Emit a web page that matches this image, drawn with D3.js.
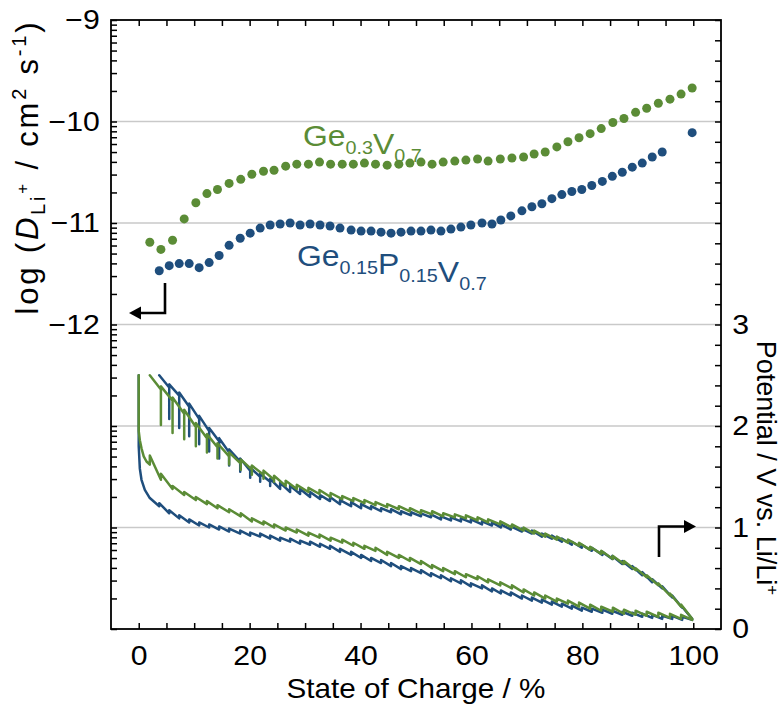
<!DOCTYPE html>
<html>
<head>
<meta charset="utf-8">
<script src="https://cdn.jsdelivr.net/npm/d3@7"></script>
<style>
  body { margin: 0; background: #fff; }
  svg text { font-family: "Liberation Sans", Arial, Helvetica, sans-serif; }
</style>
</head>
<body>
<svg id="chart" width="783" height="707"></svg>
<script>
// ---- axis tick labels ----
const socTicks = [0, 20, 40, 60, 80, 100];
const logDTicks = [-9, -10, -11, -12];
const potentialTicks = [0, 1, 2, 3];

// ---- diffusion coefficients, log(D / cm2 s-1) vs. state of charge ----
const socGeV = [2.0, 4.0, 6.1, 8.2, 10.3, 12.3, 14.2, 16.3, 18.4, 20.4, 22.5, 24.4, 26.5, 28.5, 30.6, 32.6, 34.6, 36.7, 38.7, 40.7,
  42.7, 44.8, 46.9, 48.9, 50.9, 52.9, 54.9, 57.0, 59.0, 61.1, 63.0, 65.2, 67.3, 69.4, 71.3, 73.3, 75.4, 77.4, 79.4, 81.4,
  83.4, 85.5, 87.5, 89.6, 91.6, 93.7, 95.8, 97.8, 99.8];
const logDGeV = [-11.19, -11.26, -11.17, -10.96, -10.80, -10.71, -10.67, -10.61, -10.57, -10.52, -10.49, -10.48, -10.44, -10.42,
  -10.42, -10.40, -10.42, -10.42, -10.42, -10.41, -10.42, -10.43, -10.42, -10.41, -10.40, -10.42, -10.40, -10.39, -10.38,
  -10.37, -10.39, -10.37, -10.36, -10.35, -10.32, -10.30, -10.25, -10.20, -10.16, -10.12, -10.07, -10.01, -9.97, -9.91,
  -9.87, -9.82, -9.78, -9.73, -9.67];

const socGePV = [3.7, 5.5, 7.3, 9.1, 10.9, 12.7, 14.5, 16.3, 18.3, 20.1, 21.9, 23.7, 25.5, 27.3, 29.1, 30.9, 32.7, 34.5, 36.3,
  38.3, 40.1, 41.9, 43.7, 45.5, 47.3, 49.1, 50.9, 52.7, 54.5, 56.3, 58.1, 59.9, 61.9, 63.7, 65.3, 67.1, 69.1, 70.9, 72.7,
  74.5, 76.3, 78.1, 79.9, 81.7, 83.6, 85.4, 87.2, 89.0, 90.8, 92.6, 94.4, 99.8];
const logDGePV = [-11.47, -11.42, -11.40, -11.40, -11.44, -11.39, -11.32, -11.22, -11.15, -11.10, -11.05, -11.02, -11.01,
  -11.00, -11.02, -11.01, -11.02, -11.03, -11.05, -11.07, -11.08, -11.08, -11.09, -11.10, -11.09, -11.08, -11.08, -11.07,
  -11.08, -11.06, -11.04, -11.02, -11.00, -11.01, -10.97, -10.93, -10.88, -10.84, -10.81, -10.76, -10.72, -10.69, -10.67,
  -10.63, -10.59, -10.54, -10.50, -10.45, -10.41, -10.35, -10.30, -10.11];

// ---- GITT potential profiles (V vs. Li/Li+) ----
// pulse = potential at the end of a current pulse, rest = relaxed potential after the pause,
// onset = potential right after the current is switched on again (defaults to rest).
// Ge0.3V0.7, lithiation (SOC increasing)
const geVLithSOC = [0, 0, 0.2, 0.5, 0.9, 1.4, 2.0, 4.0, 6.1, 8.2, 10.3, 12.3, 14.2, 16.3, 18.4, 20.4, 22.5, 24.4, 26.5, 28.5,
  30.6, 32.6, 34.6, 36.7, 38.7, 40.7, 42.7, 44.8, 46.9, 48.9, 50.9, 52.9, 54.9, 57.0, 59.0, 61.1, 63.0, 65.2, 67.3, 69.4,
  71.3, 73.3, 75.4, 77.4, 79.4, 81.4, 83.4, 85.5, 87.5, 89.6, 91.6, 93.7, 95.8, 97.8, 99.8];
const geVLithPulse = [2.50, 1.95, 1.86, 1.78, 1.70, 1.65, 1.62, 1.47, 1.38, 1.32, 1.27, 1.23, 1.19, 1.15, 1.11, 1.06, 1.03,
  1.00, 0.97, 0.95, 0.92, 0.90, 0.87, 0.85, 0.82, 0.79, 0.77, 0.73, 0.70, 0.67, 0.64, 0.60, 0.57, 0.54, 0.51, 0.49, 0.46,
  0.43, 0.40, 0.36, 0.33, 0.30, 0.27, 0.25, 0.22, 0.20, 0.18, 0.17, 0.15, 0.14, 0.13, 0.12, 0.11, 0.10, 0.09];
const geVLithRest = [2.50, 1.95, 1.86, 1.78, 1.70, 1.65, 1.71, 1.53, 1.41, 1.35, 1.30, 1.26, 1.22, 1.18, 1.14, 1.09, 1.06,
  1.03, 1.00, 0.98, 0.95, 0.93, 0.90, 0.88, 0.85, 0.82, 0.80, 0.76, 0.73, 0.70, 0.67, 0.63, 0.60, 0.57, 0.54, 0.52, 0.49,
  0.46, 0.43, 0.39, 0.36, 0.33, 0.30, 0.28, 0.26, 0.24, 0.22, 0.21, 0.19, 0.18, 0.17, 0.16, 0.15, 0.14, 0.09];
// Ge0.3V0.7, delithiation (run from SOC 100 back to 2)
const geVDelithSOC = socGeV;
const geVDelithPulse = [2.50, 2.39, 2.28, 2.16, 2.03, 1.92, 1.83, 1.74, 1.67, 1.61, 1.56, 1.51, 1.46, 1.42, 1.39, 1.37, 1.34,
  1.31, 1.29, 1.27, 1.25, 1.23, 1.21, 1.19, 1.17, 1.16, 1.14, 1.13, 1.12, 1.10, 1.08, 1.06, 1.03, 1.00, 0.97, 0.94, 0.91,
  0.88, 0.85, 0.81, 0.77, 0.72, 0.67, 0.60, 0.53, 0.45, 0.35, 0.24, 0.10];
const geVDelithRest = [2.50, 2.01, 1.93, 1.87, 1.80, 1.74, 1.68, 1.62, 1.57, 1.52, 1.48, 1.45, 1.41, 1.38, 1.35, 1.33, 1.30,
  1.28, 1.26, 1.24, 1.22, 1.20, 1.18, 1.16, 1.14, 1.13, 1.11, 1.10, 1.09, 1.07, 1.05, 1.03, 1.00, 0.97, 0.94, 0.91, 0.88,
  0.85, 0.82, 0.78, 0.74, 0.69, 0.64, 0.58, 0.51, 0.43, 0.33, 0.22, 0.10];
const geVDelithOnset = [2.50, 2.36, 2.25, 2.12, 1.99, 1.88, 1.79, 1.70, 1.63, 1.57, 1.52, 1.47, 1.41, 1.38, 1.35, 1.33, 1.30,
  1.28, 1.26, 1.24, 1.22, 1.20, 1.18, 1.16, 1.14, 1.13, 1.11, 1.10, 1.09, 1.07, 1.05, 1.03, 1.00, 0.97, 0.94, 0.91, 0.88,
  0.85, 0.82, 0.78, 0.74, 0.69, 0.64, 0.58, 0.51, 0.43, 0.33, 0.22, 0.10];

// Ge0.15P0.15V0.7, lithiation (SOC increasing)
const gePVLithSOC = [0, 0, 0.2, 0.5, 1.1, 2.0, 3.7, 5.5, 7.3, 9.1, 10.9, 12.7, 14.5, 16.3, 18.3, 20.1, 21.9, 23.7, 25.5, 27.3,
  29.1, 30.9, 32.7, 34.5, 36.3, 38.3, 40.1, 41.9, 43.7, 45.5, 47.3, 49.1, 50.9, 52.7, 54.5, 56.3, 58.1, 59.9, 61.9, 63.7,
  65.3, 67.1, 69.1, 70.9, 72.7, 74.5, 76.3, 78.1, 79.9, 81.7, 83.6, 85.4, 87.2, 89.0, 90.8, 92.6, 94.4, 96.2, 98.0, 99.8];
const gePVLithPulse = [2.50, 1.80, 1.58, 1.47, 1.37, 1.29, 1.21, 1.14, 1.09, 1.05, 1.02, 1.00, 0.98, 0.96, 0.94, 0.92, 0.91,
  0.89, 0.87, 0.86, 0.84, 0.83, 0.81, 0.79, 0.76, 0.73, 0.70, 0.67, 0.65, 0.62, 0.59, 0.57, 0.55, 0.52, 0.50, 0.47, 0.45,
  0.42, 0.40, 0.37, 0.35, 0.33, 0.30, 0.28, 0.26, 0.24, 0.22, 0.20, 0.18, 0.17, 0.16, 0.15, 0.14, 0.13, 0.12, 0.11, 0.10,
  0.10, 0.09, 0.09];
const gePVLithRest = [2.50, 1.80, 1.58, 1.47, 1.37, 1.29, 1.24, 1.17, 1.12, 1.08, 1.05, 1.03, 1.01, 0.99, 0.97, 0.95, 0.94,
  0.92, 0.90, 0.89, 0.87, 0.86, 0.84, 0.82, 0.79, 0.76, 0.73, 0.70, 0.68, 0.65, 0.62, 0.60, 0.58, 0.55, 0.53, 0.50, 0.48,
  0.45, 0.43, 0.40, 0.38, 0.36, 0.33, 0.31, 0.29, 0.27, 0.25, 0.23, 0.21, 0.20, 0.19, 0.18, 0.17, 0.16, 0.15, 0.14, 0.13,
  0.13, 0.12, 0.09];
// Ge0.15P0.15V0.7, delithiation (run from SOC 100 back to 3.7)
const gePVDelithSOC = [3.7, 5.5, 7.3, 9.1, 10.9, 12.7, 14.5, 16.3, 18.3, 20.1, 21.9, 23.7, 25.5, 27.3, 29.1, 30.9, 32.7, 34.5,
  36.3, 38.3, 40.1, 41.9, 43.7, 45.5, 47.3, 49.1, 50.9, 52.7, 54.5, 56.3, 58.1, 59.9, 61.9, 63.7, 65.3, 67.1, 69.1, 70.9,
  72.7, 74.5, 76.3, 78.1, 79.9, 81.7, 83.6, 85.4, 87.2, 89.0, 90.8, 92.6, 94.4, 96.2, 98.0, 99.8];
const gePVDelithPulse = [2.50, 2.41, 2.33, 2.22, 2.10, 1.98, 1.88, 1.77, 1.68, 1.59, 1.53, 1.48, 1.44, 1.41, 1.38, 1.35, 1.32,
  1.30, 1.27, 1.25, 1.23, 1.21, 1.19, 1.18, 1.16, 1.15, 1.14, 1.13, 1.11, 1.10, 1.09, 1.08, 1.06, 1.05, 1.03, 1.01, 0.99,
  0.97, 0.94, 0.92, 0.89, 0.86, 0.83, 0.80, 0.76, 0.72, 0.67, 0.62, 0.56, 0.49, 0.42, 0.33, 0.22, 0.10];
const gePVDelithRest = [2.50, 2.07, 1.98, 1.90, 1.82, 1.75, 1.68, 1.61, 1.55, 1.49, 1.45, 1.41, 1.38, 1.35, 1.33, 1.30, 1.28,
  1.26, 1.23, 1.21, 1.19, 1.18, 1.16, 1.15, 1.13, 1.12, 1.11, 1.10, 1.08, 1.07, 1.06, 1.05, 1.03, 1.02, 1.00, 0.98, 0.96,
  0.94, 0.91, 0.89, 0.86, 0.83, 0.80, 0.77, 0.73, 0.69, 0.64, 0.59, 0.53, 0.46, 0.40, 0.31, 0.21, 0.10];
const gePVDelithOnset = [2.50, 2.38, 2.30, 2.19, 2.07, 1.95, 1.85, 1.74, 1.65, 1.56, 1.50, 1.45, 1.38, 1.35, 1.33, 1.30, 1.28,
  1.26, 1.23, 1.21, 1.19, 1.18, 1.16, 1.15, 1.13, 1.12, 1.11, 1.10, 1.08, 1.07, 1.06, 1.05, 1.03, 1.02, 1.00, 0.98, 0.96,
  0.94, 0.91, 0.89, 0.86, 0.83, 0.80, 0.77, 0.73, 0.69, 0.64, 0.59, 0.53, 0.46, 0.40, 0.31, 0.21, 0.10];

// ---- colours ----
const green = "#5b8c36";
const blue = "#1f4e7d";

// ---- layout ----
const svg = d3.select("#chart");
const plot = { left: 111, right: 721, top: 20, bottom: 629 };
const FONT = "'Liberation Sans', Arial, Helvetica, sans-serif";
const TEXT_STRETCH = "scale(1.12,1)";

const x = d3.scaleLinear().domain([-5, 105]).range([plot.left, plot.right]);
const yLogD = d3.scaleLinear().domain([-15, -9]).range([plot.bottom, plot.top]);
const yD = d3.scaleLog().domain([1e-15, 1e-9]).range([plot.bottom, plot.top]);
const yPot = d3.scaleLinear().domain([0, 6]).range([plot.bottom, plot.top]);

// horizontal grid lines
const grid = svg.append("g").attr("stroke", "#c9c9c9").attr("stroke-width", 1.5);
[-10, -11, -12].forEach(v => grid.append("line")
  .attr("x1", plot.left).attr("x2", plot.right).attr("y1", yLogD(v)).attr("y2", yLogD(v)));
[1, 2].forEach(v => grid.append("line")
  .attr("x1", plot.left).attr("x2", plot.right).attr("y1", yPot(v)).attr("y2", yPot(v)));

// ---- potential profiles ----
// Walk the pulses in measurement order: end of pulse -> relaxed value -> switch-on value -> next pulse.
function gittPoints(soc, pulse, rest, onset, reverse) {
  const idx = d3.range(soc.length);
  if (reverse) idx.reverse();
  const pts = [];
  idx.forEach(i => {
    pts.push([soc[i], pulse[i]]);
    if (rest[i] !== pulse[i]) {
      pts.push([soc[i], rest[i]]);
      const on = onset ? onset[i] : rest[i];
      if (on !== rest[i]) pts.push([soc[i], on]);
    }
  });
  return pts;
}
const potLine = d3.line().x(d => x(d[0])).y(d => yPot(d[1]));
const profiles = [
  { color: blue, pts: gittPoints(gePVLithSOC, gePVLithPulse, gePVLithRest, null, false) },
  { color: blue, pts: gittPoints(gePVDelithSOC, gePVDelithPulse, gePVDelithRest, gePVDelithOnset, true) },
  { color: green, pts: gittPoints(geVLithSOC, geVLithPulse, geVLithRest, null, false) },
  { color: green, pts: gittPoints(geVDelithSOC, geVDelithPulse, geVDelithRest, geVDelithOnset, true) }
];
svg.append("g").selectAll("path").data(profiles).join("path")
  .attr("d", p => potLine(p.pts))
  .attr("fill", "none")
  .attr("stroke", p => p.color)
  .attr("stroke-width", 2.5)
  .attr("stroke-linejoin", "round")
  .attr("stroke-linecap", "round");

// ---- diffusion coefficient markers ----
const series = [
  { color: blue, soc: socGePV, logD: logDGePV },
  { color: green, soc: socGeV, logD: logDGeV }
];
series.forEach(s => {
  svg.append("g").selectAll("circle").data(s.soc.map((v, i) => [v, s.logD[i]])).join("circle")
    .attr("cx", d => x(d[0])).attr("cy", d => yLogD(d[1])).attr("r", 4.5)
    .attr("fill", s.color);
});

// ---- axes (ticks point inwards) ----
const socMinor = d3.range(0, 101, 5);
const potMinor = d3.range(0, 31).map(i => i / 5);
function styleAxis(g) {
  g.select(".domain").remove();
  g.attr("font-family", FONT).attr("font-size", 27);
  g.selectAll(".tick line").attr("stroke", "#000").attr("stroke-width", 1.5);
  g.selectAll(".tick text").attr("fill", "#000").attr("transform", TEXT_STRETCH);
}
svg.append("g").attr("transform", `translate(0,${plot.bottom})`)
  .call(d3.axisBottom(x).tickValues(socMinor).tickSizeInner(-6).tickSizeOuter(0).tickPadding(17)
    .tickFormat(d => socTicks.includes(d) ? d : ""))
  .call(styleAxis);
svg.append("g").attr("transform", `translate(0,${plot.top})`)
  .call(d3.axisTop(x).tickValues(socMinor).tickSizeInner(-6).tickSizeOuter(0).tickFormat(""))
  .call(styleAxis);
svg.append("g").attr("transform", `translate(${plot.left},0)`)
  .call(d3.axisLeft(yD).tickValues(yD.ticks()).tickSizeInner(-6).tickSizeOuter(0).tickPadding(10)
    .tickFormat(d => {
      const e = Math.round(Math.log10(d));
      const m = d / Math.pow(10, e);
      return (Math.abs(m - 1) < 1e-6 && logDTicks.includes(e)) ? "\u2212" + Math.abs(e) : "";
    }))
  .call(styleAxis);
svg.append("g").attr("transform", `translate(${plot.right},0)`)
  .call(d3.axisRight(yPot).tickValues(potMinor).tickSizeInner(-6).tickSizeOuter(0).tickPadding(10)
    .tickFormat(d => potentialTicks.includes(d) ? d : ""))
  .call(styleAxis);

// frame
svg.append("rect")
  .attr("x", plot.left).attr("y", plot.top)
  .attr("width", plot.right - plot.left).attr("height", plot.bottom - plot.top)
  .attr("fill", "none").attr("stroke", "#000").attr("stroke-width", 1.8);

// ---- axis titles ----
svg.append("text")
  .attr("transform", `translate(${(plot.left + plot.right) / 2},698) scale(1.06,1)`)
  .attr("text-anchor", "middle").attr("font-size", 28).attr("fill", "#000")
  .text("State of Charge / %");

const yTitle = svg.append("text")
  .attr("transform", "translate(38,167) rotate(-90)")
  .attr("text-anchor", "middle").attr("font-size", 31).attr("letter-spacing", 2.8).attr("fill", "#000");
yTitle.append("tspan").text("log (");
yTitle.append("tspan").attr("font-style", "italic").text("D");
yTitle.append("tspan").attr("font-size", 20).attr("dy", 7).text("Li");
yTitle.append("tspan").attr("font-size", 17).attr("dy", -17).text("+");
yTitle.append("tspan").attr("dy", 10).text(" / cm");
yTitle.append("tspan").attr("font-size", 20).attr("dy", -12).text("2");
yTitle.append("tspan").attr("dy", 12).text(" s");
yTitle.append("tspan").attr("font-size", 20).attr("dy", -12).text("-1");
yTitle.append("tspan").attr("dy", 12).text(")");

const rTitle = svg.append("text")
  .attr("transform", "translate(757,468) rotate(90)")
  .attr("text-anchor", "middle").attr("font-size", 27).attr("fill", "#000");
rTitle.append("tspan").text("Potential / V vs. Li/Li");
rTitle.append("tspan").attr("font-size", 17).attr("dy", -10).text("+");

// ---- series labels ----
function compoundLabel(parts, xPos, yPos, color) {
  const t = svg.append("text")
    .attr("transform", `translate(${xPos},${yPos}) scale(1.1,1)`)
    .attr("fill", color).attr("font-size", 29);
  parts.forEach(([txt, sub]) => {
    t.append("tspan").text(txt);
    t.append("tspan").attr("font-size", 18).attr("dy", 8).text(sub);
    t.append("tspan").attr("dy", -8).text("");
  });
}
compoundLabel([["Ge", "0.3"], ["V", "0.7"]], 303, 146, green);
compoundLabel([["Ge", "0.15"], ["P", "0.15"], ["V", "0.7"]], 297, 266, blue);

// ---- axis-assignment arrows ----
const arrows = svg.append("g");
arrows.append("path").attr("d", "M165,283 V313 H140")
  .attr("fill", "none").attr("stroke", "#000").attr("stroke-width", 2.6);
arrows.append("path").attr("d", "M129,313 L141,306.5 L141,319.5 Z").attr("fill", "#000");
arrows.append("path").attr("d", "M659,557 V526.5 H685")
  .attr("fill", "none").attr("stroke", "#000").attr("stroke-width", 2.6);
arrows.append("path").attr("d", "M696,526.5 L684,520 L684,533 Z").attr("fill", "#000");
</script>
</body>
</html>
